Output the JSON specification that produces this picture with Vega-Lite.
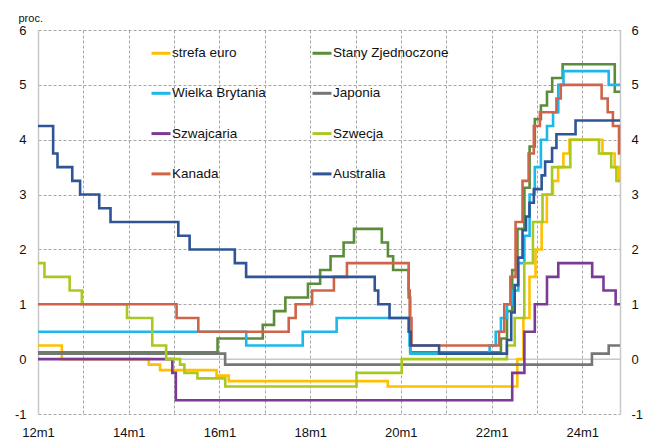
{
  "$schema": "https://vega.github.io/schema/vega-lite/v6.json",
  "autosize": {"type": "none"},
  "width": 582,
  "height": 384,
  "padding": {"left": 38, "top": 30, "right": 30, "bottom": 27},
  "background": "white",
  "config": {
    "view": {"stroke": null},
    "font": "Liberation Sans",
    "axis": {"labelFont": "Liberation Sans", "labelFontSize": 13, "labelColor": "#111111", "titleFont": "Liberation Sans"}
  },
  "datasets": {
    "rates": [
      {"s": "strefa euro", "d": "2012-01-01", "v": 0.25},
      {"s": "strefa euro", "d": "2012-07-11", "v": 0},
      {"s": "strefa euro", "d": "2014-06-11", "v": -0.1},
      {"s": "strefa euro", "d": "2014-09-10", "v": -0.2},
      {"s": "strefa euro", "d": "2015-12-09", "v": -0.3},
      {"s": "strefa euro", "d": "2016-03-16", "v": -0.4},
      {"s": "strefa euro", "d": "2019-09-18", "v": -0.5},
      {"s": "strefa euro", "d": "2022-07-27", "v": 0},
      {"s": "strefa euro", "d": "2022-09-14", "v": 0.75},
      {"s": "strefa euro", "d": "2022-11-02", "v": 1.5},
      {"s": "strefa euro", "d": "2022-12-21", "v": 2},
      {"s": "strefa euro", "d": "2023-02-08", "v": 2.5},
      {"s": "strefa euro", "d": "2023-03-22", "v": 3},
      {"s": "strefa euro", "d": "2023-05-10", "v": 3.25},
      {"s": "strefa euro", "d": "2023-06-21", "v": 3.5},
      {"s": "strefa euro", "d": "2023-08-02", "v": 3.75},
      {"s": "strefa euro", "d": "2023-09-20", "v": 4},
      {"s": "strefa euro", "d": "2024-06-12", "v": 3.75},
      {"s": "strefa euro", "d": "2024-09-18", "v": 3.5},
      {"s": "strefa euro", "d": "2024-10-23", "v": 3.25},
      {"s": "strefa euro", "d": "2024-10-31", "v": 3.25},

      {"s": "Stany Zjednoczone", "d": "2012-01-01", "v": 0.125},
      {"s": "Stany Zjednoczone", "d": "2015-12-17", "v": 0.375},
      {"s": "Stany Zjednoczone", "d": "2016-12-15", "v": 0.625},
      {"s": "Stany Zjednoczone", "d": "2017-03-16", "v": 0.875},
      {"s": "Stany Zjednoczone", "d": "2017-06-15", "v": 1.125},
      {"s": "Stany Zjednoczone", "d": "2017-12-14", "v": 1.375},
      {"s": "Stany Zjednoczone", "d": "2018-03-22", "v": 1.625},
      {"s": "Stany Zjednoczone", "d": "2018-06-14", "v": 1.875},
      {"s": "Stany Zjednoczone", "d": "2018-09-27", "v": 2.125},
      {"s": "Stany Zjednoczone", "d": "2018-12-20", "v": 2.375},
      {"s": "Stany Zjednoczone", "d": "2019-08-01", "v": 2.125},
      {"s": "Stany Zjednoczone", "d": "2019-09-19", "v": 1.875},
      {"s": "Stany Zjednoczone", "d": "2019-10-31", "v": 1.625},
      {"s": "Stany Zjednoczone", "d": "2020-03-04", "v": 1.125},
      {"s": "Stany Zjednoczone", "d": "2020-03-16", "v": 0.125},
      {"s": "Stany Zjednoczone", "d": "2022-03-17", "v": 0.375},
      {"s": "Stany Zjednoczone", "d": "2022-05-05", "v": 0.875},
      {"s": "Stany Zjednoczone", "d": "2022-06-16", "v": 1.625},
      {"s": "Stany Zjednoczone", "d": "2022-07-28", "v": 2.375},
      {"s": "Stany Zjednoczone", "d": "2022-09-22", "v": 3.125},
      {"s": "Stany Zjednoczone", "d": "2022-11-03", "v": 3.875},
      {"s": "Stany Zjednoczone", "d": "2022-12-15", "v": 4.375},
      {"s": "Stany Zjednoczone", "d": "2023-02-02", "v": 4.625},
      {"s": "Stany Zjednoczone", "d": "2023-03-23", "v": 4.875},
      {"s": "Stany Zjednoczone", "d": "2023-05-04", "v": 5.125},
      {"s": "Stany Zjednoczone", "d": "2023-07-27", "v": 5.375},
      {"s": "Stany Zjednoczone", "d": "2024-09-19", "v": 4.875},
      {"s": "Stany Zjednoczone", "d": "2024-10-31", "v": 4.875},

      {"s": "Wielka Brytania", "d": "2012-01-01", "v": 0.5},
      {"s": "Wielka Brytania", "d": "2016-08-04", "v": 0.25},
      {"s": "Wielka Brytania", "d": "2017-11-02", "v": 0.5},
      {"s": "Wielka Brytania", "d": "2018-08-02", "v": 0.75},
      {"s": "Wielka Brytania", "d": "2020-03-11", "v": 0.25},
      {"s": "Wielka Brytania", "d": "2020-03-19", "v": 0.1},
      {"s": "Wielka Brytania", "d": "2021-12-16", "v": 0.25},
      {"s": "Wielka Brytania", "d": "2022-02-03", "v": 0.5},
      {"s": "Wielka Brytania", "d": "2022-03-17", "v": 0.75},
      {"s": "Wielka Brytania", "d": "2022-05-05", "v": 1},
      {"s": "Wielka Brytania", "d": "2022-06-16", "v": 1.25},
      {"s": "Wielka Brytania", "d": "2022-08-04", "v": 1.75},
      {"s": "Wielka Brytania", "d": "2022-09-22", "v": 2.25},
      {"s": "Wielka Brytania", "d": "2022-11-03", "v": 3},
      {"s": "Wielka Brytania", "d": "2022-12-15", "v": 3.5},
      {"s": "Wielka Brytania", "d": "2023-02-02", "v": 4},
      {"s": "Wielka Brytania", "d": "2023-03-23", "v": 4.25},
      {"s": "Wielka Brytania", "d": "2023-05-11", "v": 4.5},
      {"s": "Wielka Brytania", "d": "2023-06-22", "v": 5},
      {"s": "Wielka Brytania", "d": "2023-08-03", "v": 5.25},
      {"s": "Wielka Brytania", "d": "2024-08-01", "v": 5},
      {"s": "Wielka Brytania", "d": "2024-10-31", "v": 5},

      {"s": "Japonia", "d": "2012-01-01", "v": 0.1},
      {"s": "Japonia", "d": "2016-02-16", "v": -0.1},
      {"s": "Japonia", "d": "2024-03-19", "v": 0.1},
      {"s": "Japonia", "d": "2024-08-01", "v": 0.25},
      {"s": "Japonia", "d": "2024-10-31", "v": 0.25},

      {"s": "Szwajcaria", "d": "2012-01-01", "v": 0},
      {"s": "Szwajcaria", "d": "2014-12-18", "v": -0.25},
      {"s": "Szwajcaria", "d": "2015-01-15", "v": -0.75},
      {"s": "Szwajcaria", "d": "2022-06-16", "v": -0.25},
      {"s": "Szwajcaria", "d": "2022-09-22", "v": 0.5},
      {"s": "Szwajcaria", "d": "2022-12-15", "v": 1},
      {"s": "Szwajcaria", "d": "2023-03-23", "v": 1.5},
      {"s": "Szwajcaria", "d": "2023-06-22", "v": 1.75},
      {"s": "Szwajcaria", "d": "2024-03-21", "v": 1.5},
      {"s": "Szwajcaria", "d": "2024-06-20", "v": 1.25},
      {"s": "Szwajcaria", "d": "2024-09-26", "v": 1},
      {"s": "Szwajcaria", "d": "2024-10-31", "v": 1},

      {"s": "Szwecja", "d": "2012-01-01", "v": 1.75},
      {"s": "Szwecja", "d": "2012-02-22", "v": 1.5},
      {"s": "Szwecja", "d": "2012-09-12", "v": 1.25},
      {"s": "Szwecja", "d": "2012-12-19", "v": 1},
      {"s": "Szwecja", "d": "2013-12-18", "v": 0.75},
      {"s": "Szwecja", "d": "2014-07-09", "v": 0.25},
      {"s": "Szwecja", "d": "2014-10-29", "v": 0},
      {"s": "Szwecja", "d": "2015-02-18", "v": -0.1},
      {"s": "Szwecja", "d": "2015-03-25", "v": -0.25},
      {"s": "Szwecja", "d": "2015-07-08", "v": -0.35},
      {"s": "Szwecja", "d": "2016-02-17", "v": -0.5},
      {"s": "Szwecja", "d": "2019-01-09", "v": -0.25},
      {"s": "Szwecja", "d": "2020-01-08", "v": 0},
      {"s": "Szwecja", "d": "2022-05-04", "v": 0.25},
      {"s": "Szwecja", "d": "2022-07-06", "v": 0.75},
      {"s": "Szwecja", "d": "2022-09-21", "v": 1.75},
      {"s": "Szwecja", "d": "2022-11-30", "v": 2.5},
      {"s": "Szwecja", "d": "2023-02-15", "v": 3},
      {"s": "Szwecja", "d": "2023-05-03", "v": 3.5},
      {"s": "Szwecja", "d": "2023-09-27", "v": 4},
      {"s": "Szwecja", "d": "2024-05-15", "v": 3.75},
      {"s": "Szwecja", "d": "2024-08-21", "v": 3.5},
      {"s": "Szwecja", "d": "2024-10-02", "v": 3.25},
      {"s": "Szwecja", "d": "2024-10-31", "v": 3.25},

      {"s": "Kanada", "d": "2012-01-01", "v": 1},
      {"s": "Kanada", "d": "2015-01-21", "v": 0.75},
      {"s": "Kanada", "d": "2015-07-15", "v": 0.5},
      {"s": "Kanada", "d": "2017-07-12", "v": 0.75},
      {"s": "Kanada", "d": "2017-09-06", "v": 1},
      {"s": "Kanada", "d": "2018-01-17", "v": 1.25},
      {"s": "Kanada", "d": "2018-07-11", "v": 1.5},
      {"s": "Kanada", "d": "2018-10-24", "v": 1.75},
      {"s": "Kanada", "d": "2020-03-04", "v": 1.25},
      {"s": "Kanada", "d": "2020-03-13", "v": 0.75},
      {"s": "Kanada", "d": "2020-03-27", "v": 0.25},
      {"s": "Kanada", "d": "2022-03-02", "v": 0.5},
      {"s": "Kanada", "d": "2022-04-13", "v": 1},
      {"s": "Kanada", "d": "2022-06-01", "v": 1.5},
      {"s": "Kanada", "d": "2022-07-13", "v": 2.5},
      {"s": "Kanada", "d": "2022-09-07", "v": 3.25},
      {"s": "Kanada", "d": "2022-10-26", "v": 3.75},
      {"s": "Kanada", "d": "2022-12-07", "v": 4.25},
      {"s": "Kanada", "d": "2023-01-25", "v": 4.5},
      {"s": "Kanada", "d": "2023-06-07", "v": 4.75},
      {"s": "Kanada", "d": "2023-07-12", "v": 5},
      {"s": "Kanada", "d": "2024-06-05", "v": 4.75},
      {"s": "Kanada", "d": "2024-07-24", "v": 4.5},
      {"s": "Kanada", "d": "2024-09-04", "v": 4.25},
      {"s": "Kanada", "d": "2024-10-23", "v": 3.75},
      {"s": "Kanada", "d": "2024-10-31", "v": 3.75},

      {"s": "Australia", "d": "2012-01-01", "v": 4.25},
      {"s": "Australia", "d": "2012-05-02", "v": 3.75},
      {"s": "Australia", "d": "2012-06-06", "v": 3.5},
      {"s": "Australia", "d": "2012-10-03", "v": 3.25},
      {"s": "Australia", "d": "2012-12-05", "v": 3},
      {"s": "Australia", "d": "2013-05-08", "v": 2.75},
      {"s": "Australia", "d": "2013-08-07", "v": 2.5},
      {"s": "Australia", "d": "2015-02-04", "v": 2.25},
      {"s": "Australia", "d": "2015-05-06", "v": 2},
      {"s": "Australia", "d": "2016-05-04", "v": 1.75},
      {"s": "Australia", "d": "2016-08-03", "v": 1.5},
      {"s": "Australia", "d": "2019-06-05", "v": 1.25},
      {"s": "Australia", "d": "2019-07-03", "v": 1},
      {"s": "Australia", "d": "2019-10-02", "v": 0.75},
      {"s": "Australia", "d": "2020-03-04", "v": 0.5},
      {"s": "Australia", "d": "2020-03-20", "v": 0.25},
      {"s": "Australia", "d": "2020-11-04", "v": 0.1},
      {"s": "Australia", "d": "2022-05-04", "v": 0.35},
      {"s": "Australia", "d": "2022-06-08", "v": 0.85},
      {"s": "Australia", "d": "2022-07-06", "v": 1.35},
      {"s": "Australia", "d": "2022-08-03", "v": 1.85},
      {"s": "Australia", "d": "2022-09-07", "v": 2.35},
      {"s": "Australia", "d": "2022-10-05", "v": 2.6},
      {"s": "Australia", "d": "2022-11-02", "v": 2.85},
      {"s": "Australia", "d": "2022-12-07", "v": 3.1},
      {"s": "Australia", "d": "2023-02-08", "v": 3.35},
      {"s": "Australia", "d": "2023-03-08", "v": 3.6},
      {"s": "Australia", "d": "2023-05-03", "v": 3.85},
      {"s": "Australia", "d": "2023-06-07", "v": 4.1},
      {"s": "Australia", "d": "2023-11-08", "v": 4.35},
      {"s": "Australia", "d": "2024-10-31", "v": 4.35}
    ],
    "zero": [{"v": 0}]
  },
  "layer": [
    {
      "data": {"name": "zero"},
      "mark": {"type": "rule", "color": "#C8C8C8", "strokeWidth": 1.5},
      "encoding": {
        "y": {
          "field": "v", "type": "quantitative",
          "scale": {"domain": [-1, 6], "nice": false, "zero": false},
          "axis": {
            "orient": "right", "values": [-1, 0, 1, 2, 3, 4, 5, 6], "title": null,
            "labelExpr": "'' + datum.value",
            "domain": true, "domainColor": "#C8C8C8", "domainWidth": 1.5, "ticks": false,
            "labelPadding": 11, "grid": false
          }
        }
      }
    },
    {
      "data": {"name": "rates"},
      "mark": {"type": "line", "interpolate": "step-after", "strokeWidth": 2.6, "clip": false},
      "encoding": {
        "x": {
          "field": "d", "type": "temporal",
          "scale": {"type": "utc", "domain": ["2012-01-01", "2024-10-31"], "nice": false},
          "axis": {
            "title": null,
            "tickCount": {"interval": "year", "step": 1},
            "labelExpr": "utcyear(datum.value) % 2 == 0 ? utcFormat(datum.value, '%y') + 'm1' : ''",
            "domain": false, "ticks": false, "labelPadding": 12, "labelFlush": false,
            "grid": true, "gridColor": "#A6A6A6", "gridDash": [3, 2], "gridWidth": 1
          }
        },
        "y": {
          "field": "v", "type": "quantitative",
          "scale": {"domain": [-1, 6], "nice": false, "zero": false},
          "axis": {
            "orient": "left",
            "values": [-1, 0, 1, 2, 3, 4, 5, 6],
            "labelExpr": "'' + datum.value",
            "title": "proc.", "titleAngle": 0, "titleX": -20, "titleY": -9, "titleAlign": "left",
            "titleBaseline": "alphabetic", "titleFontSize": 11, "titleFontWeight": "normal", "titleColor": "#111111",
            "domain": true, "domainColor": "#C8C8C8", "domainWidth": 1.5, "ticks": false, "labelPadding": 12,
            "grid": true, "gridColor": "#A6A6A6", "gridDash": [3, 2], "gridWidth": 1
          }
        },
        "color": {
          "field": "s", "type": "nominal",
          "scale": {
            "domain": ["strefa euro", "Stany Zjednoczone", "Wielka Brytania", "Japonia", "Szwajcaria", "Szwecja", "Kanada", "Australia"],
            "range": ["#FFC000", "#5B8C3A", "#1CB8EC", "#767676", "#7B3A96", "#A9C822", "#D0644A", "#2F5597"]
          },
          "legend": {
            "title": null, "orient": "none", "legendX": 112, "legendY": 12, "columns": 2,
            "direction": "horizontal",
            "symbolType": "stroke", "symbolSize": 361, "symbolStrokeWidth": 3,
            "labelFont": "Liberation Sans", "labelFontSize": 13.5, "labelColor": "#111111", "labelOffset": 0,
            "rowPadding": 22.3, "columnPadding": 40
          }
        }
      }
    }
  ],
  "resolve": {"scale": {"y": "independent"}}
}
